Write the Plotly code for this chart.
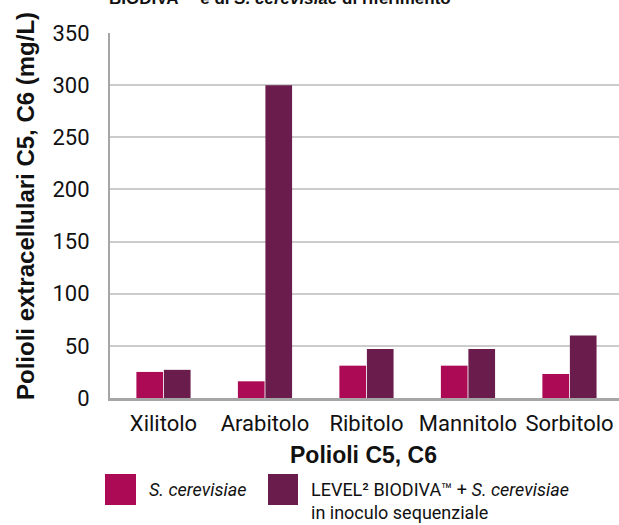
import plotly.graph_objects as go

categories = ["Xilitolo", "Arabitolo", "Ribitolo", "Mannitolo", "Sorbitolo"]
sc_values = [25, 16, 31, 31, 23]
level_values = [27, 300, 47, 47, 60]
y_ticks = [0, 50, 100, 150, 200, 250, 300, 350]

series_names = ["<i>S. cerevisiae</i>",
                "LEVEL² BIODIVA™ + <i>S. cerevisiae</i><br>in inoculo sequenziale"]
colors = ["#AC0A54", "#6A1C4C"]

W, H = 619, 525
ML, MR, MT, MB = 110, 0, 33, 127
PW = W - ML - MR
PH = H - MT - MB


def px_x(px):
    return (px - ML) / PW


def px_y(py):
    return (H - MB - py) / PH


fig = go.Figure()
fig.add_trace(go.Bar(x=categories, y=sc_values, name=series_names[0],
                     marker=dict(color=colors[0], line=dict(width=0)), showlegend=False))
fig.add_trace(go.Bar(x=categories, y=level_values, name=series_names[1],
                     marker=dict(color=colors[1], line=dict(width=0)), showlegend=False))

fig.update_layout(
    width=W, height=H,
    margin=dict(l=ML, r=MR, t=MT, b=MB, pad=0),
    paper_bgcolor="white", plot_bgcolor="white",
    barmode="group", bargap=0.458, bargroupgap=0.03,
    font=dict(family="Roboto", color="#111111"),
)
fig.update_xaxes(
    type="category", range=[-0.527, 4.488],
    showline=True, linecolor="#a6a6a6", linewidth=3,
    showgrid=False, ticks="", ticklabelstandoff=4,
    tickfont=dict(family="Roboto", size=22, color="#111111"),
)
fig.update_yaxes(
    range=[0, 350], tickvals=y_ticks, ticktext=[str(v) for v in y_ticks],
    showline=True, linecolor="#a6a6a6", linewidth=2,
    showgrid=True, gridcolor="#cccccc", gridwidth=1.5,
    zeroline=False, ticks="", ticklabelstandoff=14,
    tickfont=dict(family="Roboto", size=22, color="#111111"),
)

annotations = []
# chart title, mostly cut off at the very top as in the reference
annotations.append(dict(
    text="BIODIVA™ e di <i>S. cerevisiae</i> di riferimento",
    xref="paper", yref="paper", x=px_x(107), y=1, xanchor="left", yanchor="bottom",
    yshift=23, showarrow=False,
    font=dict(family="Liberation Sans", size=17, color="#111111", weight="bold")))
# y axis title
annotations.append(dict(
    text="<b>Polioli extracellulari C5, C6 (mg/L)</b>", textangle=-90,
    xref="paper", yref="paper", x=px_x(25), y=px_y(206), xanchor="center", yanchor="middle",
    showarrow=False, font=dict(family="Liberation Sans", size=24, color="#111111")))
# x axis title
annotations.append(dict(
    text="<b>Polioli C5, C6</b>",
    xref="paper", yref="paper", x=px_x(363), y=px_y(455), xanchor="center", yanchor="middle",
    showarrow=False, font=dict(family="Liberation Sans", size=23, color="#111111")))

# custom legend
shapes = []
legend_boxes = [(105, 136), (268, 298)]
legend_text_x = [147, 309]
for i in range(2):
    x0, x1 = legend_boxes[i]
    shapes.append(dict(type="rect", xref="paper", yref="paper",
                       x0=px_x(x0), x1=px_x(x1), y0=px_y(505), y1=px_y(474),
                       fillcolor=colors[i], line=dict(width=0)))
    annotations.append(dict(
        text=series_names[i], xref="paper", yref="paper",
        x=px_x(legend_text_x[i]), y=px_y(477), xanchor="left", yanchor="top",
        align="left", showarrow=False,
        font=dict(family="Roboto", size=18, color="#111111")))

fig.update_layout(annotations=annotations, shapes=shapes)
fig.write_html(
    "out.html",
    config={"displayModeBar": False},
    post_script="document.body.style.margin='0';document.body.style.overflow='hidden';",
)
